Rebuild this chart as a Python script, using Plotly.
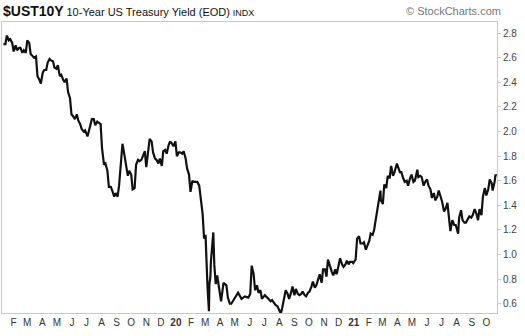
import plotly.graph_objects as go
import pandas as pd

# ---- data ----
# end-of-week closes
dates = [
    "2019-01-11", "2019-01-18", "2019-01-25", "2019-02-01", "2019-02-08", "2019-02-15",
    "2019-02-22", "2019-03-01", "2019-03-08", "2019-03-15", "2019-03-22", "2019-03-29",
    "2019-04-05", "2019-04-12", "2019-04-18", "2019-04-26", "2019-05-03", "2019-05-10",
    "2019-05-17", "2019-05-24", "2019-05-31", "2019-06-07", "2019-06-14", "2019-06-21",
    "2019-06-28", "2019-07-03", "2019-07-12", "2019-07-19", "2019-07-26", "2019-08-02",
    "2019-08-09", "2019-08-16", "2019-08-23", "2019-08-30", "2019-09-06", "2019-09-13",
    "2019-09-20", "2019-09-27", "2019-10-04", "2019-10-11", "2019-10-18", "2019-10-25",
    "2019-11-01", "2019-11-08", "2019-11-15", "2019-11-22", "2019-11-29", "2019-12-06",
    "2019-12-13", "2019-12-20", "2019-12-27", "2020-01-03", "2020-01-10", "2020-01-17",
    "2020-01-24", "2020-01-31", "2020-02-07", "2020-02-14", "2020-02-21", "2020-02-28",
    "2020-03-02", "2020-03-06", "2020-03-09", "2020-03-10", "2020-03-12", "2020-03-13",
    "2020-03-18", "2020-03-20", "2020-03-23", "2020-03-26", "2020-03-31", "2020-04-03",
    "2020-04-08", "2020-04-14", "2020-04-17", "2020-04-21", "2020-04-24", "2020-05-01",
    "2020-05-08", "2020-05-15", "2020-05-22", "2020-05-29", "2020-06-05", "2020-06-12",
    "2020-06-19", "2020-06-26", "2020-07-02", "2020-07-10", "2020-07-17", "2020-07-24",
    "2020-07-31", "2020-08-04", "2020-08-07", "2020-08-14", "2020-08-21", "2020-08-28",
    "2020-09-04", "2020-09-11", "2020-09-18", "2020-09-25", "2020-10-02", "2020-10-09",
    "2020-10-16", "2020-10-23", "2020-10-30", "2020-11-06", "2020-11-09", "2020-11-13",
    "2020-11-20", "2020-11-27", "2020-12-04", "2020-12-11", "2020-12-18", "2020-12-24",
    "2020-12-31", "2021-01-08", "2021-01-12", "2021-01-15", "2021-01-22", "2021-01-29",
    "2021-02-05", "2021-02-12", "2021-02-19", "2021-02-25", "2021-02-26", "2021-03-05",
    "2021-03-12", "2021-03-19", "2021-03-26", "2021-03-31", "2021-04-09", "2021-04-16",
    "2021-04-23", "2021-04-30", "2021-05-07", "2021-05-12", "2021-05-14", "2021-05-21",
    "2021-05-28", "2021-06-04", "2021-06-11", "2021-06-18", "2021-06-25", "2021-07-02",
    "2021-07-09", "2021-07-16", "2021-07-19", "2021-07-23", "2021-07-30", "2021-08-04",
    "2021-08-06", "2021-08-13", "2021-08-20", "2021-08-27", "2021-09-03", "2021-09-10",
    "2021-09-17", "2021-09-24", "2021-09-28", "2021-10-01", "2021-10-08", "2021-10-14",
    "2021-10-20", "2021-10-22",
]
yields = [
    2.71, 2.78, 2.75, 2.65, 2.66, 2.68,
    2.66, 2.74, 2.63, 2.60, 2.45, 2.39,
    2.50, 2.56, 2.58, 2.52, 2.54, 2.46,
    2.40, 2.32, 2.14, 2.10, 2.09, 2.02,
    2.01, 1.96, 2.10, 2.05, 2.07, 1.86,
    1.74, 1.55, 1.52, 1.50, 1.56, 1.90,
    1.74, 1.68, 1.53, 1.73, 1.76, 1.80,
    1.71, 1.94, 1.83, 1.77, 1.78, 1.84,
    1.82, 1.92, 1.88, 1.80, 1.83, 1.84,
    1.70, 1.51, 1.59, 1.59, 1.47, 1.13,
    1.16, 0.74, 0.54, 0.76, 0.82, 0.94,
    1.18, 0.92, 0.76, 0.83, 0.70, 0.62,
    0.77, 0.75, 0.65, 0.60, 0.60, 0.64,
    0.69, 0.64, 0.66, 0.65, 0.91, 0.71,
    0.69, 0.64, 0.67, 0.64, 0.63, 0.59,
    0.55, 0.52, 0.57, 0.71, 0.64, 0.74,
    0.72, 0.67, 0.70, 0.66, 0.70, 0.78,
    0.75, 0.84, 0.88, 0.82, 0.96, 0.90,
    0.83, 0.84, 0.97, 0.90, 0.95, 0.94,
    0.93, 1.13, 1.15, 1.09, 1.10, 1.07,
    1.17, 1.20, 1.34, 1.52, 1.44, 1.57,
    1.64, 1.72, 1.67, 1.74, 1.67, 1.59,
    1.56, 1.65, 1.60, 1.69, 1.63, 1.63,
    1.59, 1.56, 1.46, 1.44, 1.52, 1.43,
    1.37, 1.30, 1.19, 1.28, 1.24, 1.17,
    1.30, 1.28, 1.26, 1.31, 1.32, 1.34,
    1.37, 1.47, 1.54, 1.48, 1.61, 1.52,
    1.65, 1.64,
]
# mid-week readings (give the line its day-to-day jaggedness)
mid_dates = [
    "2019-01-15", "2019-01-22", "2019-01-29", "2019-02-05", "2019-02-12", "2019-02-19",
    "2019-02-26", "2019-03-05", "2019-03-12", "2019-03-19", "2019-03-26", "2019-04-02",
    "2019-04-09", "2019-04-16", "2019-04-23", "2019-04-30", "2019-05-07", "2019-05-14",
    "2019-05-21", "2019-05-28", "2019-06-04", "2019-06-11", "2019-06-18", "2019-06-25",
    "2019-07-09", "2019-07-16", "2019-07-23", "2019-07-30", "2019-08-06", "2019-08-13",
    "2019-08-20", "2019-08-27", "2019-09-03", "2019-09-10", "2019-09-17", "2019-09-24",
    "2019-10-01", "2019-10-08", "2019-10-15", "2019-10-22", "2019-10-29", "2019-11-05",
    "2019-11-12", "2019-11-19", "2019-11-26", "2019-12-03", "2019-12-10", "2019-12-17",
    "2019-12-24", "2019-12-31", "2020-01-07", "2020-01-14", "2020-01-21", "2020-01-28",
    "2020-02-04", "2020-02-11", "2020-02-18", "2020-02-25",
    "2020-06-02", "2020-06-09", "2020-06-16", "2020-06-23", "2020-06-30", "2020-07-07",
    "2020-07-14", "2020-07-21", "2020-07-28", "2020-08-11", "2020-08-18", "2020-08-25",
    "2020-09-01", "2020-09-08", "2020-09-15", "2020-09-22", "2020-09-29", "2020-10-06",
    "2020-10-13", "2020-10-20", "2020-10-27", "2020-11-03", "2020-11-17", "2020-11-24",
    "2020-12-01", "2020-12-08", "2020-12-15", "2020-12-22", "2020-12-29", "2021-01-05",
    "2021-01-19", "2021-01-26", "2021-02-02", "2021-02-09", "2021-02-16", "2021-03-02",
    "2021-03-09", "2021-03-16", "2021-03-23", "2021-04-06", "2021-04-13", "2021-04-20",
    "2021-04-27", "2021-05-04", "2021-05-18", "2021-05-25", "2021-06-01", "2021-06-08",
    "2021-06-15", "2021-06-22", "2021-06-29", "2021-07-06", "2021-07-13", "2021-07-27",
    "2021-08-10", "2021-08-17", "2021-08-24", "2021-08-31", "2021-09-07", "2021-09-14",
    "2021-09-21", "2021-10-05", "2021-10-12", "2021-10-18",
]
mid_yields = [
    2.71, 2.74, 2.72, 2.70, 2.68, 2.64,
    2.64, 2.72, 2.61, 2.61, 2.42, 2.48,
    2.50, 2.59, 2.57, 2.51, 2.45, 2.42,
    2.43, 2.27, 2.12, 2.14, 2.06, 2.00,
    2.06, 2.10, 2.08, 2.06, 1.73, 1.68,
    1.55, 1.47, 1.47, 1.73, 1.81, 1.64,
    1.65, 1.54, 1.77, 1.77, 1.84, 1.86,
    1.92, 1.78, 1.74, 1.72, 1.85, 1.89,
    1.90, 1.92, 1.83, 1.82, 1.78, 1.65,
    1.60, 1.59, 1.56, 1.33,
    0.68, 0.84, 0.75, 0.71, 0.66, 0.65,
    0.62, 0.61, 0.58, 0.67, 0.68, 0.69,
    0.67, 0.68, 0.68, 0.67, 0.69, 0.74,
    0.73, 0.80, 0.77, 0.88, 0.86, 0.88,
    0.93, 0.92, 0.92, 0.92, 0.94, 0.96,
    1.09, 1.04, 1.11, 1.16, 1.30, 1.41,
    1.54, 1.62, 1.64, 1.67, 1.62, 1.60,
    1.62, 1.59, 1.64, 1.56, 1.61, 1.53,
    1.50, 1.47, 1.47, 1.35, 1.42, 1.24,
    1.36, 1.26, 1.29, 1.30, 1.37, 1.28,
    1.32, 1.53, 1.58, 1.59,
]

series = pd.concat([
    pd.Series(yields, index=pd.to_datetime(dates)),
    pd.Series(mid_yields, index=pd.to_datetime(mid_dates)),
]).sort_index()

month_ticks = pd.date_range("2019-02-01", "2021-10-01", freq="MS")
month_letters = ["J", "F", "M", "A", "M", "J", "J", "A", "S", "O", "N", "D"]
tick_text = [
    ("<b>%s</b>" % str(d.year)[2:]) if d.month == 1 else month_letters[d.month - 1]
    for d in month_ticks
]
y_ticks = [0.6, 0.8, 1.0, 1.2, 1.4, 1.6, 1.8, 2.0, 2.2, 2.4, 2.6, 2.8]
y_tick_text = ["%.1f" % v for v in y_ticks]

FONT = "Liberation Sans, Arial, sans-serif"

fig = go.Figure()
fig.add_trace(go.Scatter(
    x=series.index, y=series.values, mode="lines",
    line=dict(color="#111111", width=2.2),
    hoverinfo="skip", showlegend=False,
))

fig.update_layout(
    width=525, height=336,
    margin=dict(l=2, r=28, t=22, b=23, pad=0),
    paper_bgcolor="white", plot_bgcolor="white",
    font=dict(family=FONT, size=10, color="#333333"),
    xaxis=dict(
        range=["2019-01-08", "2021-10-23"],
        tickvals=list(month_ticks), ticktext=tick_text,
        tickangle=0,
        showgrid=False, zeroline=False,
        showline=True, linecolor="#c8c8c8", linewidth=1, mirror=True,
        ticks="", tickfont=dict(size=10, color="#333333", family=FONT),
    ),
    yaxis=dict(
        side="right",
        range=[0.525, 2.89],
        tickvals=y_ticks, ticktext=y_tick_text,
        showgrid=False, zeroline=False,
        showline=True, linecolor="#c8c8c8", linewidth=1, mirror=True,
        ticks="outside", ticklen=3, tickcolor="#cccccc",
        tickfont=dict(size=10, color="#444444", family=FONT),
    ),
    annotations=[
        dict(
            xref="paper", yref="paper", x=-0.002, y=1.0, yshift=11,
            xanchor="left", yanchor="middle", showarrow=False,
            text=("<b><span style='font-size:14px'>$UST10Y</span></b> "
                  "<span style='font-size:11px'>10-Year US Treasury Yield (EOD)</span> "
                  "<span style='font-size:9px'>INDX</span>"),
            font=dict(family=FONT, color="#111111"),
        ),
        dict(
            xref="paper", yref="paper", x=1.012, y=1.0, yshift=11,
            xanchor="right", yanchor="middle", showarrow=False,
            text="© StockCharts.com",
            font=dict(family=FONT, size=11, color="#777777"),
        ),
    ],
)

fig.write_html("out.html")
